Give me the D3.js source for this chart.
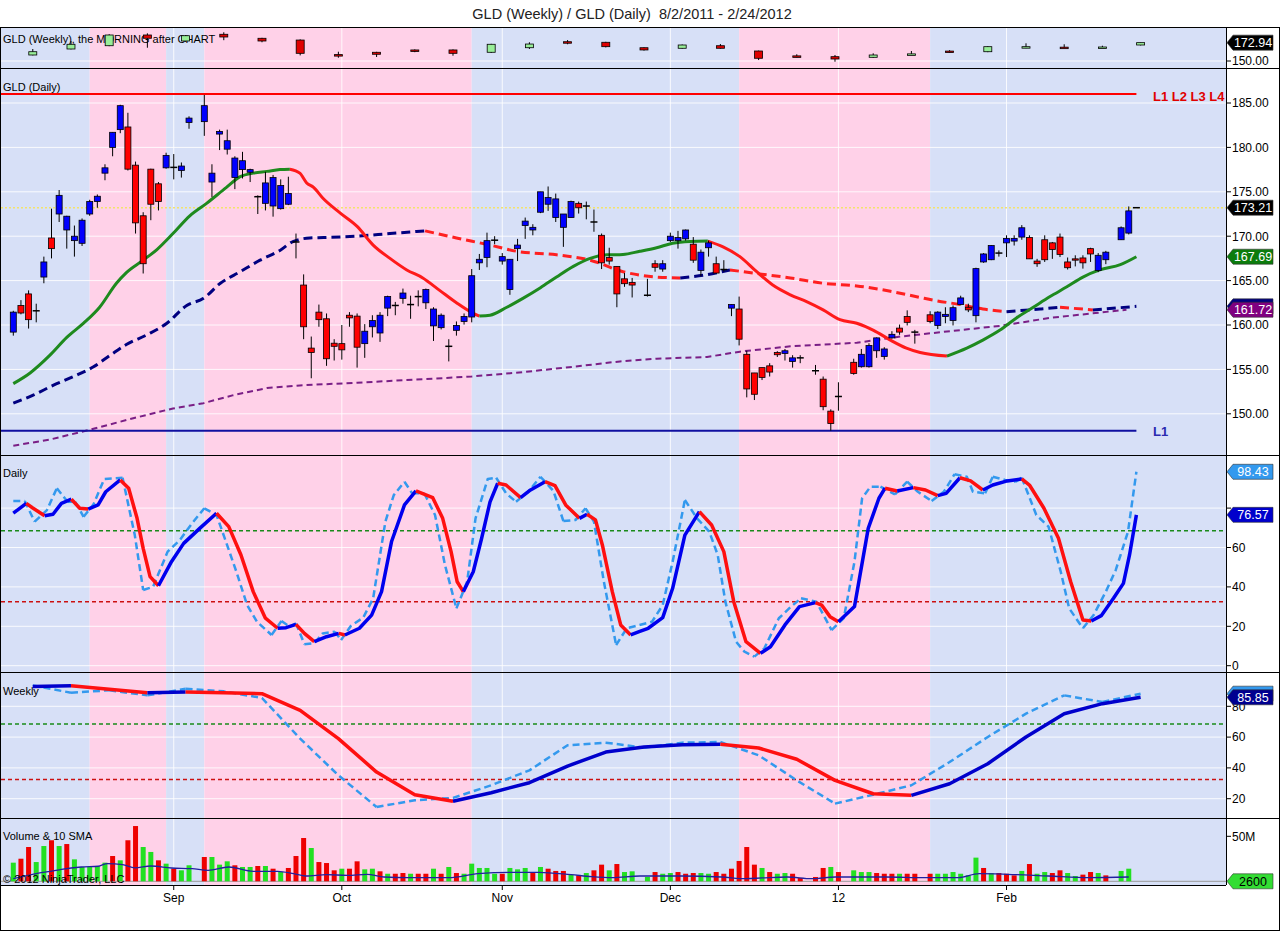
<!DOCTYPE html>
<meta charset="utf-8">
<script src="https://d3js.org/d3.v7.min.js"></script>
<style>
  body { margin: 0; background: #fff; }
  text { font-family: Arial, "Liberation Sans", sans-serif; }
</style>
<div id="chart"></div>
<script>
// ---------------- data ----------------
// daily bars, one slot per weekday from 8/2/2011; null = market holiday
const dOpen = [
  159.2,162.2,163.5,161.6,165.4,169.8,172.5,170.7,169.5,169.2,
  172.5,173.9,177.1,180.0,182.0,182.3,178.0,172.3,177.55,175.9,
  177.7,177.75,177.4,182.8,null,182.9,176.1,181.5,179.8,176.6,
  177.5,177.2,174.45,173.7,173.4,173.1,173.6,169.35,164.5,157.4,
  161.45,160.7,157.95,157.9,161.1,161.0,157.9,159.8,159.1,161.9,
  162.2,163.0,162.3,163.2,162.5,159.9,159.7,157.6,159.4,160.4,
  160.9,167.0,167.6,169.55,167.2,164.0,168.6,171.2,170.7,172.7,
  173.6,172.1,171.0,172.1,173.7,173.4,171.6,170.1,167.6,166.6,
  165.2,164.8,null,163.35,166.9,166.3,169.5,169.5,169.7,169.1,
  166.15,168.7,166.9,166.25,161.9,161.8,156.7,154.6,155.2,155.4,
  156.9,156.8,155.9,156.3,null,154.85,153.9,150.3,151.95,null,
  155.8,155.3,155.3,157.1,156.45,158.55,159.65,160.95,159.2,null,
  161.15,159.95,160.95,160.5,162.3,162.0,161.05,167.1,167.35,168.1,
  169.25,169.45,169.9,169.85,167.2,169.6,169.25,169.9,167.1,167.45,
  167.55,168.6,166.15,167.35,null,169.6,170.35,173.21];
const dHigh = [
  161.6,162.8,163.9,162.4,167.7,173.1,175.2,172.3,171.2,172.0,
  174.1,174.7,178.1,181.7,184.8,183.9,178.4,172.7,177.6,176.1,
  179.4,179.25,178.3,183.5,null,185.9,178.1,182.0,182.0,179.0,
  179.5,177.6,174.6,177.25,176.9,176.4,176.7,170.3,165.7,158.7,
  162.3,161.3,158.4,160.0,161.45,161.3,160.1,161.1,161.45,163.3,
  162.6,164.1,163.3,163.9,164.1,162.0,161.3,158.4,160.4,161.3,
  166.3,168.0,170.4,170.0,168.1,167.4,169.7,172.1,171.35,175.0,
  175.6,174.8,172.5,174.0,173.9,173.9,173.0,170.3,168.7,166.6,
  165.85,165.3,null,165.2,167.3,167.3,170.4,170.6,170.75,169.9,
  168.5,169.5,167.7,167.3,162.3,163.2,157.1,154.6,155.2,155.7,
  157.05,157.3,156.6,156.6,null,155.5,154.2,150.5,153.55,null,
  156.2,157.3,157.95,158.6,157.5,159.3,160.05,161.65,159.45,null,
  161.55,161.55,162.0,162.2,163.3,162.4,166.45,168.1,169.0,168.4,
  170.1,170.1,171.25,170.1,167.45,170.1,169.35,170.3,167.6,167.85,
  167.85,168.7,168.1,168.35,null,171.1,173.35,173.21];
const dLow = [
  158.8,161.2,159.6,160.3,164.7,167.5,171.6,168.6,167.7,168.9,
  172.3,173.2,176.3,179.0,181.6,177.4,170.3,165.8,171.8,172.9,
  177.6,176.4,176.6,182.1,null,181.3,174.4,179.7,179.2,175.3,
  176.5,176.1,172.5,172.9,172.2,173.0,173.5,167.5,158.4,154.0,
  159.8,155.4,156.0,156.1,159.8,155.2,156.3,158.6,158.1,161.0,
  161.1,162.4,160.7,162.1,161.8,158.2,159.5,155.9,158.8,160.05,
  160.3,166.2,166.5,169.1,166.8,163.4,167.2,169.7,170.1,172.6,
  172.85,171.6,168.8,172.1,172.55,171.9,170.5,166.3,166.8,162.0,
  164.3,163.1,null,163.2,166.0,166.0,169.35,168.6,169.5,167.0,
  165.5,167.7,165.8,166.0,161.0,157.7,151.85,151.55,153.8,154.2,
  156.4,156.0,155.2,155.7,null,154.4,150.4,148.1,150.35,null,
  154.4,155.2,155.2,156.3,156.1,158.45,158.9,159.95,157.9,null,
  160.2,159.55,160.2,159.95,162.2,161.45,160.3,167.0,167.3,167.7,
  167.65,168.95,169.6,167.45,166.55,167.1,167.45,167.65,166.25,166.6,
  166.35,167.1,165.95,166.85,null,169.6,170.2,173.21];
const dClose = [
  161.45,161.35,160.6,161.6,167.1,168.6,174.6,172.25,170.0,171.8,
  173.9,174.5,177.7,181.7,184.7,177.55,171.5,166.9,173.6,173.9,
  179.1,177.75,177.9,183.3,null,184.7,177.1,181.8,180.75,178.8,
  178.5,177.5,174.45,176.0,176.6,175.7,174.8,169.35,159.8,156.9,
  160.6,156.2,157.6,157.2,160.8,157.5,159.3,160.5,161.1,163.2,
  162.2,163.6,162.3,163.2,164.0,161.8,161.1,157.6,159.95,160.96,
  165.55,167.4,169.5,169.55,167.7,167.4,169.0,171.7,171.0,175.0,
  174.35,174.2,172.5,173.9,173.2,173.4,171.6,167.0,167.2,163.5,
  164.65,164.5,null,163.35,166.5,166.9,170.0,169.85,170.7,167.3,
  168.2,169.25,165.85,166.25,162.3,158.4,152.8,152.2,154.1,154.7,
  156.65,157.1,156.3,156.3,null,154.85,150.8,148.9,151.95,null,
  154.55,156.7,157.7,158.55,157.3,158.95,159.2,160.3,159.2,null,
  160.4,161.45,161.2,161.95,163.05,161.7,166.35,168.0,168.95,168.1,
  169.75,169.75,170.95,167.45,166.9,167.35,168.5,167.95,166.45,167.3,
  167.0,168.0,167.85,168.2,null,170.95,172.85,173.21];

// volume in millions, and its colour flag (1 = green, 0 = red)
const volume = [
  20.7,25.1,38.1,21.4,39.2,45.6,39.2,41.4,24.4,15.9,
  15.9,17.0,20.7,28.1,23.3,45.6,61.4,38.1,32.6,23.3,
  19.6,14.0,12.2,17.8,null,27.0,27.0,18.5,22.2,17.8,
  15.9,15.9,17.0,17.0,14.0,10.3,14.8,28.1,48.1,37.0,
  21.4,20.3,12.2,14.0,14.0,22.2,13.3,14.0,11.1,8.4,
  8.4,9.2,8.4,8.4,8.4,14.0,8.4,15.9,9.2,8.4,
  19.6,14.8,14.8,8.4,8.4,14.8,13.3,14.8,9.2,15.9,
  14.0,11.5,11.5,7.4,6.6,9.2,12.2,18.5,12.2,19.2,
  10.3,11.1,null,4.8,10.3,8.4,9.2,10.3,8.4,9.2,
  9.2,8.4,10.3,8.4,14.0,22.6,38.1,18.5,14.8,10.3,
  8.4,9.2,8.4,3.7,null,4.8,14.8,15.9,10.3,null,
  12.2,10.3,10.3,9.2,8.4,8.4,8.4,8.4,8.4,null,
  8.4,8.4,8.4,10.3,8.4,6.6,26.3,14.8,9.2,9.2,
  8.4,6.6,11.5,19.2,8.4,10.3,9.2,12.2,9.2,5.9,
  7.4,10.3,9.2,6.6,null,11.5,14.0,0.0026];
const volUp = [
  1,0,0,1,1,0,1,0,1,1, 1,1,1,0,1,0,0,1,1,0, 1,0,1,1,null,0,1,1,1,0,
  1,1,0,1,0,1,0,0,0,1, 0,0,0,1,0,0,1,1,0,1, 0,0,1,0,0,1,0,1,0,1,
  1,1,1,1,0,1,1,1,0,1, 0,0,0,1,0,1,0,0,1,0, 1,1,null,1,0,1,1,0,0,0,
  1,1,0,0,0,0,0,0,1,0, 1,1,0,0,null,0,0,1,0,null, 1,1,1,0,0,0,1,0,0,null,
  0,1,1,1,1,1,1,0,1,0, 0,0,1,0,1,1,0,0,1,1, 0,0,1,0,null,1,1,1];
// 10-period volume SMA [slot, millions]
const volSma = [[0,2.9],[3.3,9.2],[4.9,11.1],[6.3,13.3],[8.9,15.9],[11.1,16.7],[12.3,19.6],[14.3,18.5],
  [15.9,15],[18,17],[20.7,14.8],[23.4,14],[25.5,12.2],[28.2,15.9],[31.4,11.1],[34.6,11.1],[36.7,8.5],
  [38.3,5.9],[41,7.4],[43.7,6.6],[46.3,7.8],[48.5,4.8],[51.7,4.1],[57,4.1],[60.8,8.5],[65,10],[68.8,10],
  [73,7.4],[75.7,5.2],[78.4,4.1],[82,5.9],[87.4,5.9],[92.7,4.8],[95.9,2.9],[98,3.7],[101.3,4.8],
  [104.5,2.9],[107.6,4.8],[114.1,4.8],[119.4,4.1],[123.7,4.1],[126.4,8.5],[130.1,7.8],[135.5,5.9],
  [140.8,4.1],[146,4.8]];

// moving averages on the daily chart [slot, price]
const maFast = [[0,153.4],[2.2,154.6],[4.8,156.6],[7,158.6],[9.2,160.2],[11.3,162.0],[13.5,164.7],[14.8,165.9],
  [17,167.3],[18.8,168.5],[20.9,170.3],[23.1,172.3],[25.3,173.7],[27.9,175.5],[29.7,176.7],[31.4,177.1],
  [33.2,177.3],[34.9,177.5],[36.2,177.55],[37.5,177.1],[38.4,176.0],[39.3,175.5],[40.5,174.3],[42.8,172.6],
  [45,171.1],[47.1,169.0],[49.3,167.5],[51.5,166.2],[53.6,165.3],[55.8,163.9],[58,162.5],[60,161.4],
  [61,161.0],[62.4,161.1],[64.6,162.0],[66.7,163.0],[69,164.2],[71.1,165.4],[73.3,166.6],[75.5,167.5],
  [77.7,167.9],[79.8,167.95],[82,168.3],[84.2,168.7],[86.3,169.2],[88.6,169.4],[90.9,169.45],[92.9,168.8],
  [95.1,167.7],[97.3,166.0],[99.4,164.5],[101.7,163.4],[103.9,162.6],[106,161.7],[108.2,160.6],[110.4,160.2],
  [112.6,159.4],[114.8,158.3],[116.9,157.4],[118.7,156.9],[122.2,156.5],[124.8,157.4],[126.9,158.3],
  [129.1,159.4],[131.3,160.8],[133.5,162.0],[135.7,163.2],[137.9,164.3],[140,165.4],[142.2,166.2],
  [144.9,166.8],[147,167.69]];
const maMid = [[0,151.2],[2.6,152.1],[5.2,153.2],[7.9,154.2],[10.5,155.3],[12.7,156.6],[14.8,157.8],[17.5,158.9],
  [20.1,160.2],[22.7,162.2],[24.9,163.0],[27.1,164.7],[29.7,166.0],[32.3,167.3],[34.9,168.4],[36.6,169.4],
  [38.8,169.8],[40.6,169.85],[44.9,170.0],[49.3,170.3],[53.9,170.6],[58,169.8],[62.4,169.0],[65.9,168.3],
  [71.1,167.9],[75.5,167.3],[79.8,166.0],[84.2,165.4],[87.3,165.3],[90.3,165.6],[93.8,166.2],[97.3,165.8],
  [101.7,165.3],[106,164.7],[110.4,164.4],[114.8,163.8],[118.7,163.1],[120.4,162.8],[123.9,162.3],
  [126.9,161.8],[130,161.5],[134.4,161.8],[137,162.0],[141.3,161.7],[147,162.1]];
const maSlow = [[0,146.4],[4.8,147.1],[10,148.2],[15.7,149.5],[20.9,150.6],[24.9,151.2],[28.8,152.1],[33.2,152.9],
  [37.5,153.2],[45,153.5],[53.7,153.9],[60,154.2],[66.8,154.7],[73.3,155.3],[79.4,155.9],[84.2,156.2],
  [90.8,156.4],[95.1,157.0],[101.7,157.6],[110.4,158.0],[116.1,158.7],[122.6,159.3],[129.1,159.9],
  [135.7,160.8],[142.2,161.4],[145.7,161.72]];
const levelHigh = 186.0, levelLow = 148.1, lastPrice = 173.21;

// daily stochastics [slot, value]
const stochD = [[0,77.4],[1.7,82.4],[2.5,80.2],[4.1,76.1],[5.2,76.9],[6.3,82.4],[7.6,84.5],[8.7,79.9],[9.8,79.5],
  [11.1,81.6],[12.1,88.3],[14.0,94.3],[15.1,90.1],[16.2,74.8],[17.0,59.6],[17.9,45.2],[19.0,40.6],[20.7,52.8],
  [22.3,62.1],[24.4,69.7],[26.6,77.4],[28.2,70.6],[29.8,56.2],[31.4,37.6],[33.0,24.1],[34.6,19.0],[35.7,19.3],
  [37.0,21.0],[38.1,16.4],[39.4,12.2],[41.0,14.7],[42.6,16.4],[43.4,15.6],[45.3,19.0],[46.9,25.7],[48.2,37.6],
  [49.5,62.9],[51.2,81.6],[52.7,88.7],[54.9,85.3],[56.2,74.8],[57.3,57.9],[58.1,42.6],[58.9,37.6],[60.2,47.7],
  [61.3,64.7],[62.4,83.2],[63.4,92.6],[64.5,91.7],[66.4,85.3],[67.7,89.2],[69.6,93.4],[70.9,91.4],[72.3,81.6],
  [74.1,74.8],[75.1,76.9],[76.2,74.0],[77.1,61.3],[78.4,37.6],[79.5,20.7],[80.8,15.6],[82.0,17.4],[83.1,19.0],
  [85.0,24.4],[86.3,39.3],[87.9,66.3],[89.8,78.2],[91.4,71.4],[93.0,57.9],[94.3,32.5],[95.9,12.2],[97.8,6.3],
  [99.1,9.6],[101.0,20.7],[102.9,30.0],[105.0,32.0],[105.8,30.8],[106.9,24.9],[108.0,22.3],[110.1,30.0],
  [111.9,69.7],[113.3,85.0],[114.1,90.1],[115.7,88.7],[117.8,90.4],[119.4,89.2],[121.0,86.3],[122.1,87.5],
  [123.9,95.4],[125.3,93.8],[126.9,89.2],[128.2,91.7],[130.1,93.8],[132.0,94.8],[133.0,91.7],[134.9,79.9],
  [136.8,64.7],[138.4,42.6],[140.0,23.2],[141.1,22.7],[142.4,25.4],[144.0,34.2],[145.3,41.8],[146.1,56.2],
  [147,76.57]];
const stochK = [[0,83.6],[1.5,83.6],[2.8,73.1],[4.4,79],[5.7,90.1],[7.1,83.2],[8.1,83.2],[9.2,75.6],[10.5,81.9],
  [11.9,94.8],[14.3,95.4],[15.9,66.3],[17.0,38.4],[18.3,40.1],[20.2,57.9],[21.8,63.8],[23.4,72.3],[25.0,79.9],
  [26.6,76.5],[27.6,65.5],[29.2,47.7],[30.6,30.8],[31.9,22.3],[33.8,15.6],[35.1,22.7],[36.2,19.8],[37.0,21.5],
  [38.1,10.9],[39.4,11.4],[40.5,16.4],[42.1,17.3],[42.9,13.0],[44.2,20.3],[45.8,24.4],[47.1,34.2],[48.7,73.1],
  [49.8,86.6],[51.2,93.4],[52.2,87.5],[53.8,87.5],[55.2,76.5],[56.5,51.1],[58.0,29.1],[59.4,42.6],[60.5,74.8],
  [62.1,94.8],[63.2,95.4],[64.5,87.5],[65.8,83.2],[67.4,88.3],[69.0,95.9],[70.7,88.7],[72.0,73.4],[73.6,74],
  [74.9,79.9],[76.0,73.1],[77.3,42.6],[78.9,10.5],[80.3,19.0],[81.6,20.3],[83.6,22.3],[85.0,30.8],[86.3,52.8],
  [87.9,84.1],[89.5,74.8],[91.1,68.0],[92.2,56.2],[93.2,32.5],[94.6,12.2],[95.7,7.1],[97.0,4.6],[98.3,8.8],
  [100.2,24.1],[101.8,30.0],[103.1,34.2],[105.1,32.5],[107.1,18.1],[108.7,24.1],[110.1,52.8],[111.1,85],
  [112.2,90.9],[113.5,90.9],[115.4,87],[117.0,93.4],[118.4,88.3],[120.2,83.6],[121.8,88.3],[123.2,97.2],
  [124.8,95.9],[125.6,88.3],[127.2,87.5],[128.2,95.9],[129.8,94.3],[131.2,93.4],[132.0,95.4],[133.9,76.5],
  [135.5,70.6],[137.1,47.7],[138.2,29.1],[140.0,19.0],[141.4,25.7],[143.0,37.6],[144.3,48.6],[145.9,68.0],
  [147,98.43]];
const stochHi = 68.5, stochLo = 32.5;

// weekly bars (Friday slot of each week)
const weekSlot = [3,8,13,18,23,28,33,38,43,48,53,58,63,68,73,78,83,88,93,98,103,108,113,118,123,128,133,138,143,148];
const wOpen  = [157.5,165,169.1,182.5,175,183.4,178.4,176.2,158.0,160.9,163.8,163.8,160.9,166.6,174.1,173.4,166.6,165.9,169.1,162.5,156.4,155.4,154.6,157.7,162.4,161.6,166.8,167.3,166.8,170];
const wHigh  = [165,175,183.5,184.6,182.5,185.9,179,177,161.6,161.5,164.5,164.5,171.5,173.4,176.2,174,167,170.6,171.2,163,158.4,157.5,159.6,162.5,163.5,168.5,172.1,170.9,169.1,172.94];
const wLow   = [157,164.5,168.5,166.6,174,176,173.4,157,154.1,155,161,156.6,160,165,170.9,167,163,165.5,165.5,151.2,154.6,149.1,154,157.5,160.5,161,166,166,166.5,169.5];
const wClose = [161.6,170.9,182.5,178.4,181.6,180,175,159.6,157.6,158.4,162.0,159.6,170.9,171.2,172.9,167.9,163.8,170,165.9,153.4,155.2,152.5,157.5,158.9,161.2,167.9,167.9,166.6,167.5,172.94];
// weekly stochastics
const wStochD = [92.8,93.4,91.0,88.8,89.3,88.8,88.2,77.4,59.0,37.3,22.6,18.3,23.9,30.4,41.2,50.3,53.6,55.1,55.3,52.9,45.6,31.9,23.2,22.2,29.7,42.7,60.1,75.2,81.7,85.85];
const wStochK = [93.6,88.8,90.4,87.1,91.4,89.7,85.4,59.0,35.2,14.6,19.0,20.5,28.7,38.4,54.7,56.4,53.1,56.4,56.8,48.2,31.9,16.8,22.6,28.7,43.8,60.1,75.2,87.1,82.8,88.2];

// background trend zones [from slot, to slot, kind]
const zones = [[-2,10,"b"],[10,20,"p"],[20,25,"b"],[25,60,"p"],[60,95,"b"],[95,120,"p"],[120,160,"b"]];
// x axis
const monthSlots = [21, 43, 64, 86, 108, 130];
const monthLabels = ["Sep", "Oct", "Nov", "Dec", "12", "Feb"];
const priceTicks = [150, 155, 160, 165, 170, 175, 180, 185];

// ---------------- layout ----------------
const W = 1280, H = 931, L = 1, R = 1226;
const panels = [
  {id: "top", y0: 28, y1: 68},
  {id: "main", y0: 69, y1: 455},
  {id: "daily", y0: 456, y1: 672},
  {id: "weekly", y0: 673, y1: 818},
  {id: "vol", y0: 819, y1: 885}
];
const x = d3.scaleLinear().domain([0, 147]).range([13.3, 1136.4]);
const yTop = d3.scaleLinear().domain([141.25, 191.25]).range([68, 28]);
const yMain = d3.scaleLinear().domain([150, 185]).range([413.8, 103]);
const yDaily = d3.scaleLinear().domain([0, 100]).range([665.7, 468.7]);
const yWeek = d3.scaleLinear().domain([0, 80]).range([829.5, 706.3]);
const yVol = d3.scaleLinear().domain([0, 50]).range([881.3, 836.3]);

const svg = d3.select("#chart").append("svg")
    .attr("width", W).attr("height", H);
svg.append("rect").attr("width", W).attr("height", H).attr("fill", "#fff");

const defs = svg.append("defs");
const G = {};
panels.forEach(p => {
  defs.append("clipPath").attr("id", "clip-" + p.id)
    .append("rect").attr("x", L).attr("y", p.y0).attr("width", R - L).attr("height", p.y1 - p.y0);
  const g = svg.append("g").attr("clip-path", `url(#clip-${p.id})`);
  // zones
  g.selectAll("rect.zone").data(zones).join("rect")
      .attr("x", d => Math.max(L, x(d[0])))
      .attr("width", d => Math.min(R, x(d[1])) - Math.max(L, x(d[0])))
      .attr("y", p.y0).attr("height", p.y1 - p.y0)
      .attr("fill", d => d[2] === "b" ? "#d7e0f7" : "#ffd1e8");
  // vertical grid
  g.selectAll("line.vg").data(monthSlots).join("line")
      .attr("x1", d => x(d)).attr("x2", d => x(d))
      .attr("y1", p.y0).attr("y2", p.y1)
      .attr("stroke", "#fff").attr("stroke-opacity", 0.85);
  G[p.id] = g;
});

// horizontal grids
function hgrid(g, vals, y) {
  g.selectAll(null).data(vals).join("line")
      .attr("x1", L).attr("x2", R).attr("y1", d => y(d)).attr("y2", d => y(d))
      .attr("stroke", "#fff").attr("stroke-opacity", 0.85);
}
hgrid(G.main, priceTicks, yMain);
hgrid(G.top, [150], yTop);
hgrid(G.daily, [0, 20, 40, 60, 80], yDaily);
hgrid(G.weekly, [20, 40, 60, 80], yWeek);

// panel captions
function caption(g, y, t) {
  g.append("text").attr("x", 3).attr("y", y).attr("font-size", 11).attr("fill", "#000").text(t);
}
caption(G.top, 43, "GLD (Weekly), the MORNING after CHART");
caption(G.main, 91, "GLD (Daily)");
caption(G.daily, 477, "Daily");
caption(G.weekly, 695, "Weekly");
caption(G.vol, 840, "Volume & 10 SMA");

// helper: split a series into rising / falling runs
function runs(pts) {
  const out = [];
  let cur = null;
  for (let k = 1; k < pts.length; k++) {
    const up = pts[k][1] >= pts[k - 1][1];
    if (!cur || cur.up !== up) { cur = {up: up, pts: [pts[k - 1]]}; out.push(cur); }
    cur.pts.push(pts[k]);
  }
  return out;
}
function trendLine(g, pts, y, upCol, dnCol, width, dash, curve) {
  const line = d3.line().x(p => x(p[0])).y(p => y(p[1])).curve(curve || d3.curveLinear);
  g.selectAll(null).data(runs(pts)).join("path")
      .attr("d", d => line(d.pts))
      .attr("fill", "none")
      .attr("stroke", d => d.up ? upCol : dnCol)
      .attr("stroke-width", width)
      .attr("stroke-dasharray", dash || null)
      .attr("stroke-linejoin", "round");
}

// ---------------- weekly candles (top) ----------------
const weekly = weekSlot.map((s, k) => ({s: s - 0.45, o: wOpen[k], h: wHigh[k], l: wLow[k], c: wClose[k]}));
G.top.selectAll("line.ww").data(weekly).join("line")
    .attr("x1", d => x(d.s)).attr("x2", d => x(d.s))
    .attr("y1", d => yTop(d.h)).attr("y2", d => yTop(d.l))
    .attr("stroke", "#000");
G.top.selectAll("rect.wb").data(weekly).join("rect")
    .attr("x", d => x(d.s) - 4).attr("width", 8)
    .attr("y", d => yTop(Math.max(d.o, d.c)))
    .attr("height", d => Math.max(1.5, Math.abs(yTop(d.o) - yTop(d.c))))
    .attr("fill", d => d.c >= d.o ? "#98ee98" : "#e00000")
    .attr("stroke", "#000").attr("stroke-width", 0.8);

// ---------------- daily panel ----------------
const daily = dOpen.map((o, i) => ({i: i, o: o, h: dHigh[i], l: dLow[i], c: dClose[i]})).filter(d => d.o != null);

G.main.append("line").attr("x1", L).attr("x2", R)
    .attr("y1", yMain(lastPrice)).attr("y2", yMain(lastPrice))
    .attr("stroke", "#f3e36a").attr("stroke-width", 1.5).attr("stroke-dasharray", "2,2");

trendLine(G.main, maSlow, yMain, "#7a1f86", "#7a1f86", 2, "6,4");
trendLine(G.main, maMid, yMain, "#000080", "#ff2020", 3, "9,5", d3.curveMonotoneX);
trendLine(G.main, maFast, yMain, "#1e8a1e", "#ff1a1a", 3, null, d3.curveMonotoneX);

G.main.append("line").attr("x1", L).attr("x2", x(147))
    .attr("y1", yMain(levelHigh)).attr("y2", yMain(levelHigh))
    .attr("stroke", "#ff0000").attr("stroke-width", 2);
G.main.append("line").attr("x1", L).attr("x2", x(147))
    .attr("y1", yMain(levelLow)).attr("y2", yMain(levelLow))
    .attr("stroke", "#1010a0").attr("stroke-width", 2);
G.main.append("text").attr("x", 1153).attr("y", yMain(levelHigh) + 7)
    .attr("font-size", 13).attr("font-weight", "bold").attr("fill", "#e00000").text("L1 L2 L3 L4");
G.main.append("text").attr("x", 1153).attr("y", yMain(levelLow) + 5)
    .attr("font-size", 13).attr("font-weight", "bold").attr("fill", "#2a2ab0").text("L1");

G.main.selectAll("line.wick").data(daily).join("line")
    .attr("x1", d => x(d.i)).attr("x2", d => x(d.i))
    .attr("y1", d => yMain(d.h)).attr("y2", d => yMain(d.l))
    .attr("stroke", "#000");
G.main.selectAll("rect.body").data(daily.filter(d => d.o !== d.c)).join("rect")
    .attr("x", d => x(d.i) - 3).attr("width", 6)
    .attr("y", d => yMain(Math.max(d.o, d.c)))
    .attr("height", d => Math.max(1, Math.abs(yMain(d.o) - yMain(d.c))))
    .attr("fill", d => d.c > d.o ? "#0000ff" : "#ff0000")
    .attr("stroke", "#000").attr("stroke-width", 0.8);
G.main.selectAll("line.doji").data(daily.filter(d => d.o === d.c)).join("line")
    .attr("x1", d => x(d.i) - 3.5).attr("x2", d => x(d.i) + 3.5)
    .attr("y1", d => yMain(d.c)).attr("y2", d => yMain(d.c))
    .attr("stroke", "#000").attr("stroke-width", 1.5);

// ---------------- daily stochastics ----------------
[[stochHi, "#1a8a1a"], [stochLo, "#cc1010"]].forEach(([v, c]) => {
  G.daily.append("line").attr("x1", L).attr("x2", R).attr("y1", yDaily(v)).attr("y2", yDaily(v))
      .attr("stroke", c).attr("stroke-width", 1.5).attr("stroke-dasharray", "4,3");
});
trendLine(G.daily, stochK, yDaily, "#3399ee", "#3399ee", 2.5, "7,4");
trendLine(G.daily, stochD, yDaily, "#0000ee", "#ff1010", 3.5);

// ---------------- weekly stochastics ----------------
[[stochHi, "#1a8a1a"], [stochLo, "#cc1010"]].forEach(([v, c]) => {
  G.weekly.append("line").attr("x1", L).attr("x2", R).attr("y1", yWeek(v)).attr("y2", yWeek(v))
      .attr("stroke", c).attr("stroke-width", 1.5).attr("stroke-dasharray", "4,3");
});
const wK = wStochK.map((v, k) => [weekSlot[k] - 0.45, v]);
const wD = wStochD.map((v, k) => [weekSlot[k] - 0.45, v]);
trendLine(G.weekly, wK, yWeek, "#3399ee", "#3399ee", 2.5, "7,4");
trendLine(G.weekly, wD, yWeek, "#0000cc", "#ff1010", 3.5);

// ---------------- volume ----------------
const vols = volume.map((v, i) => ({i: i, v: v, up: volUp[i]})).filter(d => d.v != null);
G.vol.append("line").attr("x1", L).attr("x2", R).attr("y1", yVol(0)).attr("y2", yVol(0))
    .attr("stroke", "#999");
G.vol.selectAll("rect.v").data(vols).join("rect")
    .attr("x", d => x(d.i) - 2.5).attr("width", 5)
    .attr("y", d => yVol(d.v)).attr("height", d => yVol(0) - yVol(d.v))
    .attr("fill", d => d.up ? "#22e022" : "#ee0000");
G.vol.append("path").datum(volSma)
    .attr("d", d3.line().x(p => x(p[0])).y(p => yVol(p[1])).curve(d3.curveMonotoneX))
    .attr("fill", "none").attr("stroke", "#2020a0").attr("stroke-width", 1.3);
G.vol.append("text").attr("x", 3).attr("y", 883).attr("font-size", 11).attr("fill", "#000")
    .text("\u00a9 2012 NinjaTrader, LLC");

// ---------------- frame ----------------
const frame = svg.append("g").attr("stroke", "#000").attr("shape-rendering", "crispEdges");
frame.append("rect").attr("x", 0.5).attr("y", 27.5).attr("width", W - 1).attr("height", H - 28).attr("fill", "none");
[68, 455, 672, 818].forEach(y => frame.append("line").attr("x1", 0).attr("x2", W).attr("y1", y + 0.5).attr("y2", y + 0.5));
frame.append("line").attr("x1", 0).attr("x2", R).attr("y1", 885.5).attr("y2", 885.5);
frame.append("line").attr("x1", R + 0.5).attr("x2", R + 0.5).attr("y1", 27).attr("y2", 885);

// ---------------- axes ----------------
function rightAxis(vals, y, fmt, labelled) {
  const g = svg.append("g");
  g.selectAll("line").data(vals).join("line")
      .attr("x1", R).attr("x2", R + 5).attr("y1", d => y(d)).attr("y2", d => y(d))
      .attr("stroke", "#000");
  g.selectAll("text").data(labelled || vals).join("text")
      .attr("x", R + 6).attr("y", d => y(d)).attr("dy", "0.36em")
      .attr("font-size", 12).attr("fill", "#000").text(fmt);
}
rightAxis([150], yTop, d => d.toFixed(2));
rightAxis(priceTicks, yMain, d => d.toFixed(2));
// the 80 label sits under the %D value tag, as in the reference
rightAxis([0, 20, 40, 60, 80], yDaily, d => d, [0, 20, 40, 60]);
rightAxis([20, 40, 60, 80], yWeek, d => d);
rightAxis([50], yVol, d => d + "M");

const xa = svg.append("g");
xa.selectAll("line").data(monthSlots).join("line")
    .attr("x1", d => x(d)).attr("x2", d => x(d)).attr("y1", 886).attr("y2", 890)
    .attr("stroke", "#000");
xa.selectAll("text").data(monthSlots).join("text")
    .attr("x", d => x(d)).attr("y", 902).attr("text-anchor", "middle")
    .attr("font-size", 12).attr("fill", "#000")
    .text((d, k) => monthLabels[k]);

// value tags on the right (a tag drawn without label is hidden behind the next one)
function tag(yv, label, fill, color) {
  const g = svg.append("g");
  g.append("path")
      .attr("d", `M${R + 1},${yv} L${R + 7},${yv - 7.5} L${R + 47},${yv - 7.5} L${R + 47},${yv + 7.5} L${R + 7},${yv + 7.5} Z`)
      .attr("fill", fill).attr("stroke", "#333").attr("stroke-width", 0.6);
  if (label) {
    g.append("text").attr("x", R + 27).attr("y", yv).attr("dy", "0.36em").attr("text-anchor", "middle")
        .attr("font-size", 12.5).attr("fill", color).text(label);
  }
}
tag(yTop(wClose[wClose.length - 1]), wClose[wClose.length - 1].toFixed(2), "#000", "#fff");
tag(yMain(lastPrice), lastPrice.toFixed(2), "#000", "#fff");
tag(yMain(maFast[maFast.length - 1][1]), maFast[maFast.length - 1][1].toFixed(2), "#0c7c0c", "#fff");
tag(yMain(maMid[maMid.length - 1][1]), null, "#000080", "#fff");
tag(yMain(maSlow[maSlow.length - 1][1]), maSlow[maSlow.length - 1][1].toFixed(2), "#800080", "#fff");
tag(yDaily(98.43), "98.43", "#3399ee", "#fff");
tag(yDaily(76.57), "76.57", "#0000cc", "#fff");
tag(yWeek(wStochK[wStochK.length - 1]), null, "#3399ee", "#fff");
tag(yWeek(wStochD[wStochD.length - 1]), wStochD[wStochD.length - 1].toFixed(2), "#000090", "#fff");
tag(yVol(0), "2600", "#33dd33", "#000");

// title
svg.append("text").attr("x", 632).attr("y", 19).attr("text-anchor", "middle")
    .attr("font-size", 14.5).attr("fill", "#222").attr("xml:space", "preserve")
    .text("GLD (Weekly) / GLD (Daily)  8/2/2011 - 2/24/2012");
</script>
